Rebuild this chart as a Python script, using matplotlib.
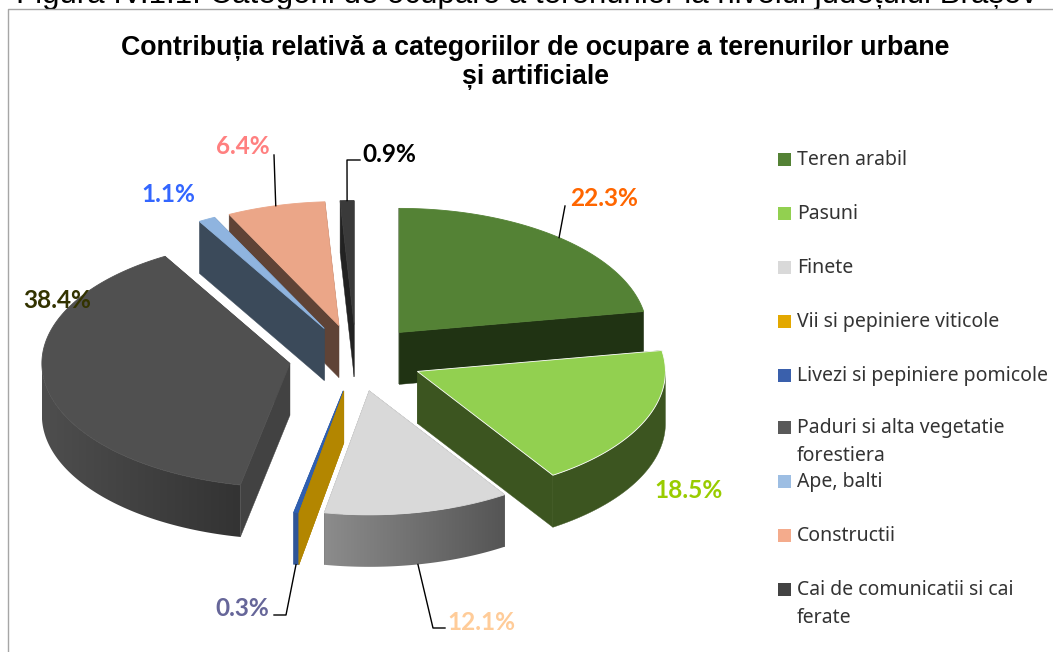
import numpy as np
import matplotlib
matplotlib.use("Agg")
import matplotlib.pyplot as plt
from matplotlib.colors import to_rgb
from matplotlib.patches import Polygon, Rectangle

# Data
categories = ["Teren arabil", "Pasuni", "Finete", "Vii si pepiniere viticole",
              "Livezi si pepiniere pomicole", "Paduri si alta vegetatie\nforestiera",
              "Ape, balti", "Constructii", "Cai de comunicatii si cai\nferate"]
values = [22.3, 18.5, 12.1, 0.0, 0.3, 38.4, 1.1, 6.4, 0.9]
value_labels = ["22.3%", "18.5%", "12.1%", "", "0.3%", "38.4%", "1.1%", "6.4%", "0.9%"]
label_colors = ["#FF6600", "#99CC00", "#FFCC99", "#000000", "#666699", "#333300", "#3366FF", "#FF8080", "#000000"]

top_colors = ["#548235", "#92D050", "#D9D9D9", "#E3A800", "#2F5FB0", "#505050", "#8FB4DF", "#EBA688", "#3A3A3A"]
legend_colors = ["#548235", "#92D050", "#D9D9D9", "#E3A800", "#3A60AC", "#595959", "#9DBEE3", "#F4AB8C", "#434343"]
cut_colors = ["#203313", "#3C5520", "#555555", "#B38600", "#2F5597", "#424242", "#3B4A5A", "#5F4336", "#222222"]
side_left = ["#203313", "#3C5520", "#8C8C8C", "#B38600", "#2F5597", "#4E4E4E", "#3B4A5A", "#5F4336", "#222222"]
side_right = ["#203313", "#3C5520", "#555555", "#B38600", "#2F5597", "#333333", "#3B4A5A", "#5F4336", "#222222"]

title_lines = ["Contribuția relativă a categoriilor de ocupare a terenurilor urbane", "și artificiale"]
caption = "Figura IV.1.1. Categorii de ocupare a terenurilor la nivelul județului Brașov"

# Pie geometry, in pixels
cx, cy = 356, 358
rx, ry = 248, 124
explode = 67
depth = 52

# back to front
draw_order = [8, 7, 6, 0, 5, 4, 3, 2, 1]

fig = plt.figure(figsize=(10.53, 6.52), dpi=100)
ax = fig.add_axes([0, 0, 1, 1])
ax.set_xlim(0, 1053)
ax.set_ylim(652, 0)
ax.axis("off")

edges = np.cumsum([0] + values) * 3.6


def apex_of(i):
    mid = np.radians((edges[i] + edges[i + 1]) / 2)
    return cx + explode * np.sin(mid), cy - explode * 0.5 * np.cos(mid)


def rim(i, deg):
    ax0, ay0 = apex_of(i)
    t = np.radians(deg)
    return ax0 + rx * np.sin(t), ay0 - ry * np.cos(t)


z = 2.0
for i in draw_order:
    a0, a1 = edges[i], edges[i + 1]
    apex = apex_of(i)
    for deg in (a0, a1):
        p = rim(i, deg)
        z += 0.01
        ax.add_patch(Polygon([apex, p, (p[0], p[1] + depth), (apex[0], apex[1] + depth)],
                             closed=True, fc=cut_colors[i], ec=cut_colors[i], lw=0.3, zorder=z))
    if a1 <= a0:
        continue
    # only the front part of the rim has a visible wall
    w0, w1 = max(a0, 90), min(a1, 270)
    if w1 > w0:
        wall_pts = [rim(i, d) for d in np.linspace(w0, w1, max(int(w1 - w0) * 2, 3))]
        wall = wall_pts + [(q[0], q[1] + depth) for q in wall_pts[::-1]]
        z += 0.01
        if side_left[i] == side_right[i]:
            ax.add_patch(Polygon(wall, closed=True, fc=side_left[i], ec=side_left[i], lw=0.3, zorder=z))
        else:
            xs = [q[0] for q in wall]
            ys = [q[1] for q in wall]
            shade = np.linspace(to_rgb(side_left[i]), to_rgb(side_right[i]), 256)[np.newaxis, :, :]
            im = ax.imshow(shade, extent=(min(xs), max(xs), max(ys), min(ys)), aspect="auto", zorder=z,
                           interpolation="bilinear")
            im.set_clip_path(Polygon(wall, closed=True, transform=ax.transData))
    pts = [rim(i, d) for d in np.linspace(a0, a1, max(int(a1 - a0) * 2, 3))]
    z += 0.01
    ax.add_patch(Polygon([apex] + pts, closed=True, fc=top_colors[i], ec="white" if i == 1 else top_colors[i],
                         lw=0.6, zorder=z))
ax.set_xlim(0, 1053)
ax.set_ylim(652, 0)

# Value labels and leader lines
label_pos = {0: (604, 199), 1: (689, 491), 2: (481, 622), 4: (242, 608),
             5: (57, 301), 6: (168, 195), 7: (243, 146), 8: (389, 154)}
for i, (x, y) in label_pos.items():
    ax.text(x, y, value_labels[i], color=label_colors[i], family="Lato", fontweight="bold",
            fontsize=17.6, ha="center", va="center", zorder=5)


def rim_mid(i, drop=0):
    p = rim(i, (edges[i] + edges[i + 1]) / 2)
    return p[0], p[1] + drop


leaders = {0: [(565, 206)], 2: [(433, 628), (445, 628)], 4: [(286, 615), (274, 615)],
           7: [(274, 155)], 8: [(347, 160), (360, 160)]}
for i, rest in leaders.items():
    drop = depth if i in (2, 4) else 0
    pts = [rim_mid(i, drop)] + rest
    ax.plot([q[0] for q in pts], [q[1] for q in pts], color="black", lw=1, zorder=4)

# Title
for line, y in zip(title_lines, [48, 77]):
    ax.text(535, y, line, family="Liberation Sans", fontweight="bold", fontsize=19.3,
            ha="center", va="center", color="black", zorder=5)

# Legend
legend_y = [159, 213, 267, 321, 375, 427, 481, 535, 589]
for i, y in enumerate(legend_y):
    ax.add_patch(Rectangle((778, y - 6), 13, 13, fc=legend_colors[i], ec="none", zorder=5))
    for k, part in enumerate(categories[i].split("\n")):
        ax.text(797, y + 6 + 28 * k, part, family="Noto Sans", fontsize=14, color="#333333",
                ha="left", va="baseline", zorder=5)

# Cropped caption and chart frame
ax.text(16, 3.5, caption, family="Liberation Sans", fontsize=22.5, color="black",
        ha="left", va="baseline", clip_on=True, zorder=1)
ax.add_patch(Rectangle((8, 9), 1045, 643, fc="white", ec="none", zorder=1.5))
ax.plot([7.5, 7.5, 1053], [652, 8.5, 8.5], color="#A6A6A6", lw=1, zorder=3, clip_on=True)

fig.savefig("out.png", dpi=100)
